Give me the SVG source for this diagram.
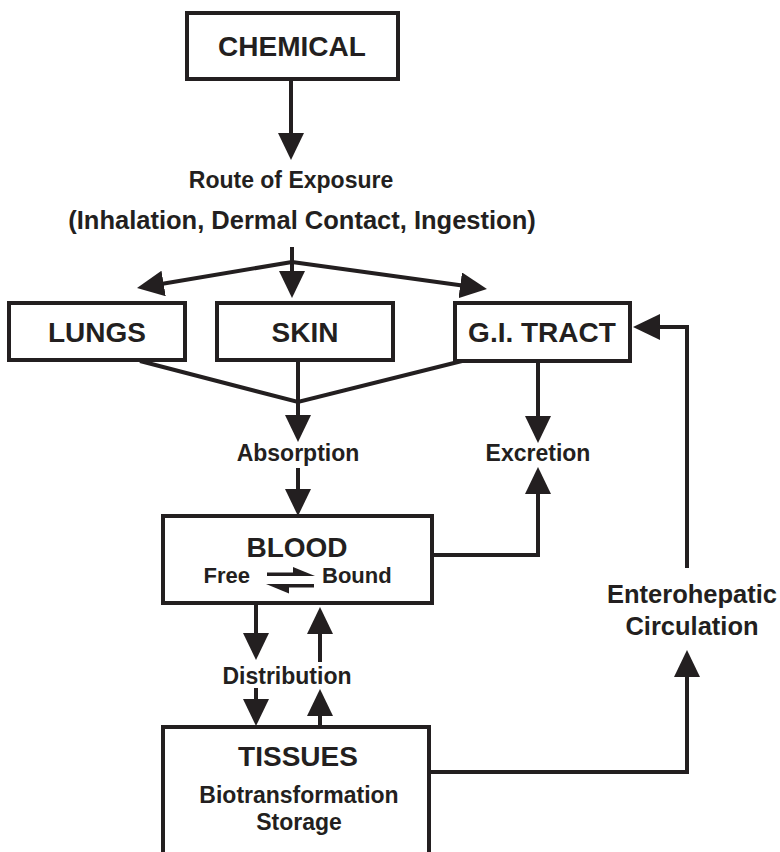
<svg xmlns="http://www.w3.org/2000/svg" width="780" height="852" viewBox="0 0 780 852">
  <defs>
    <style>
      .box { fill: #ffffff; stroke: #231f20; stroke-width: 4; }
      .edge { fill: none; stroke: #231f20; stroke-width: 4; }
      .arrow { marker-end: url(#head); }
      text { font-family: "Liberation Sans", Arial, Helvetica, sans-serif; font-weight: bold; fill: #231f20; text-anchor: middle; }
      .big { font-size: 28px; }
      .lbl { font-size: 23px; }
      .sm { font-size: 22px; }
      .mid { font-size: 25.5px; }
      .ink { fill: #231f20; }
    </style>
    <!-- solid arrowhead; the line ends halfway along the head so the tip stays sharp -->
    <marker id="head" markerUnits="userSpaceOnUse" viewBox="0 0 27 26" markerWidth="27" markerHeight="26" refX="13" refY="13" orient="auto">
      <path d="M0,0 L27,13 L0,26 Z" class="ink"/>
    </marker>
  </defs>
  <rect width="780" height="852" fill="#ffffff"/>

  <!-- connectors -->
  <g id="connectors">
    <path class="edge arrow" d="M291,79 V146"/>
    <path class="edge arrow" d="M292,247 V284"/>
    <path class="edge arrow" d="M292,262 L150.8,285.7"/>
    <path class="edge arrow" d="M292,262 L473.1,287.1"/>
    <path class="edge" d="M140,361 L298,402 L462,361"/>
    <path class="edge arrow" d="M298,360 V428"/>
    <path class="edge arrow" d="M298,468 V502"/>
    <path class="edge arrow" d="M538,361 V429"/>
    <path class="edge arrow" d="M432,555 H538 V481"/>
    <path class="edge arrow" d="M687,568 V327 H647"/>
    <path class="edge arrow" d="M429,772 H687 V664"/>
    <path class="edge arrow" d="M256,603 V646"/>
    <path class="edge arrow" d="M256,688 V712"/>
    <path class="edge arrow" d="M320,662 V621"/>
    <path class="edge arrow" d="M320,726 V703"/>
  </g>

  <g id="chemical">
    <rect class="box" x="187" y="13" width="211" height="66"/>
    <text class="big" x="292" y="56">CHEMICAL</text>
  </g>

  <g id="route">
    <text class="lbl" x="291" y="188">Route of Exposure</text>
    <text class="mid" x="302" y="229">(Inhalation, Dermal Contact, Ingestion)</text>
  </g>

  <g id="lungs">
    <rect class="box" x="9" y="303" width="176" height="57"/>
    <text class="big" x="97" y="342">LUNGS</text>
  </g>

  <g id="skin">
    <rect class="box" x="217" y="303" width="176" height="57"/>
    <text class="big" x="305" y="342">SKIN</text>
  </g>

  <g id="gi-tract">
    <rect class="box" x="455" y="303" width="175" height="58"/>
    <text class="big" x="542" y="342">G.I. TRACT</text>
  </g>

  <g id="absorption">
    <text class="lbl" x="298" y="461">Absorption</text>
  </g>

  <g id="excretion">
    <text class="lbl" x="538" y="461">Excretion</text>
  </g>

  <g id="blood">
    <rect class="box" x="163" y="516" width="269" height="87"/>
    <text class="big" x="297" y="557">BLOOD</text>
    <text class="sm" x="250" y="583" style="text-anchor:end">Free</text>
    <text class="sm" x="322" y="583" style="text-anchor:start">Bound</text>
    <!-- equilibrium harpoons -->
    <rect class="ink" x="267" y="572.5" width="30" height="3.5"/>
    <polygon class="ink" points="293,567 315,576 293,576"/>
    <rect class="ink" x="285" y="584" width="29" height="3.5"/>
    <polygon class="ink" points="289,593.5 266,584 289,584"/>
  </g>

  <g id="distribution">
    <text class="lbl" x="287" y="684">Distribution</text>
  </g>

  <g id="tissues">
    <path class="box" d="M163,860 V727 H429 V860"/>
    <text class="big" x="298" y="766">TISSUES</text>
    <text class="lbl" x="299" y="803">Biotransformation</text>
    <text class="lbl" x="299" y="830">Storage</text>
  </g>

  <g id="enterohepatic">
    <text class="mid" x="692" y="603">Enterohepatic</text>
    <text class="mid" x="692" y="635">Circulation</text>
  </g>
</svg>
